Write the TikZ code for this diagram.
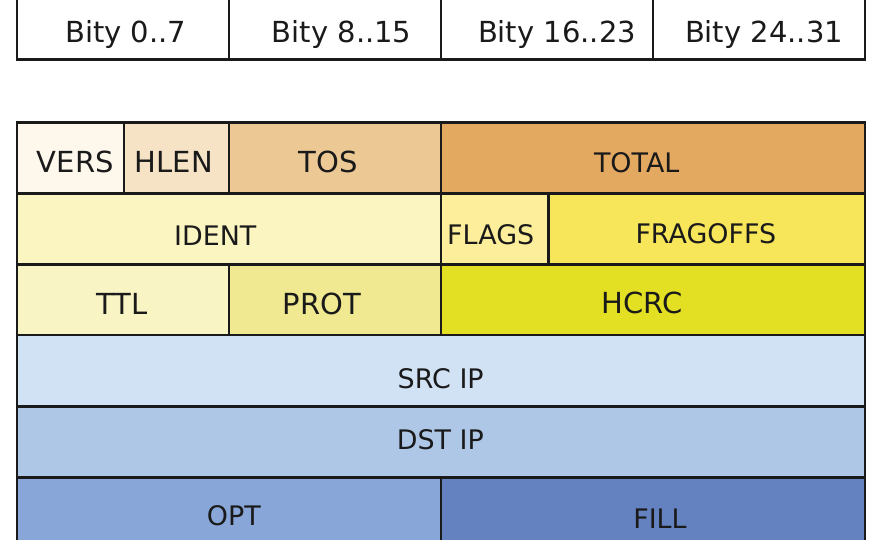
\documentclass[tikz,border=0pt]{standalone}
\usepackage{fontspec}
\setmainfont{DejaVu Sans}
\definecolor{cVers}{HTML}{FDF7EC}
\definecolor{cHlen}{HTML}{F6E3C6}
\definecolor{cTos}{HTML}{ECC894}
\definecolor{cTotal}{HTML}{E4A961}
\definecolor{cIdent}{HTML}{FBF5C2}
\definecolor{cFlags}{HTML}{FCEE9A}
\definecolor{cFrag}{HTML}{F7E55A}
\definecolor{cTtl}{HTML}{F8F4C4}
\definecolor{cProt}{HTML}{F0E992}
\definecolor{cHcrc}{HTML}{E3DF22}
\definecolor{cSrc}{HTML}{D1E2F5}
\definecolor{cDst}{HTML}{AEC7E7}
\definecolor{cOpt}{HTML}{88A6D7}
\definecolor{cFill}{HTML}{6482C0}
\definecolor{cLine}{HTML}{1A1A1A}
\tikzset{
  cellbox/.style={draw=cLine, line width=2.6pt, line join=miter},
  big/.style={anchor=base, inner sep=0pt, text=cLine, font=\fontsize{29}{34}\selectfont},
  small/.style={anchor=base, inner sep=0pt, text=cLine, font=\fontsize{26.9}{32}\selectfont}
}
\begin{document}
\begin{tikzpicture}[x=1pt,y=-1pt]
\useasboundingbox (0,0) rectangle (880,540);
% top row
\draw[cellbox, fill=white] (17,-20) rectangle (229,59.3);
\draw[cellbox, fill=white] (229,-20) rectangle (441,59.3);
\draw[cellbox, fill=white] (441,-20) rectangle (653,59.3);
\draw[cellbox, fill=white] (653,-20) rectangle (865,59.3);
\node[big] (b0) at (125.8,42.3) {Bity 0..7};
\node[big] (b1) at (341.7,42.3) {Bity 8..15};
\node[big] (b2) at (557,42.3) {Bity 16..23};
\node[big] (b3) at (764,42.3) {Bity 24..31};
% row 1
\draw[cellbox, fill=cVers] (17,122.7) rectangle (124,193.3);
\draw[cellbox, fill=cHlen] (124,122.7) rectangle (229,193.3);
\draw[cellbox, fill=cTos] (229,122.7) rectangle (441,193.3);
\draw[cellbox, fill=cTotal] (441,122.7) rectangle (865,193.3);
% row 2
\draw[cellbox, fill=cIdent] (17,193.3) rectangle (441,264.3);
\draw[cellbox, fill=cFlags] (441,193.3) rectangle (548.3,264.3);
\draw[cellbox, fill=cFrag] (548.3,193.3) rectangle (865,264.3);
% row 3
\draw[cellbox, fill=cTtl] (17,264.3) rectangle (229,335);
\draw[cellbox, fill=cProt] (229,264.3) rectangle (441,335);
\draw[cellbox, fill=cHcrc] (441,264.3) rectangle (865,335);
% row 4, 5
\draw[cellbox, fill=cSrc] (17,335) rectangle (865,406.7);
\draw[cellbox, fill=cDst] (17,406.7) rectangle (865,477.3);
% row 6
\draw[cellbox, fill=cOpt] (17,477.3) rectangle (441,560);
\draw[cellbox, fill=cFill] (441,477.3) rectangle (865,560);
% labels
\node[big] (vers) at (75.3,172.3) {VERS};
\node[big] (hlen) at (173.7,172.3) {HLEN};
\node[big] (tos) at (328.3,172.6) {TOS};
\node[small] (total) at (636.7,172.6) {TOTAL};
\node[small] (ident) at (215.3,245) {IDENT};
\node[small] (flags) at (490.7,244) {FLAGS};
\node[small] (frag) at (705.8,243.5) {FRAGOFFS};
\node[big] (ttl) at (122.2,314) {TTL};
\node[big] (prot) at (321.7,314) {PROT};
\node[big] (hcrc) at (642,313) {HCRC};
\node[small] (src) at (440.7,388.3) {SRC IP};
\node[small] (dst) at (440.3,449) {DST IP};
\node[small] (opt) at (233.9,525) {OPT};
\node[small] (fill) at (660,528.3) {FILL};
\end{tikzpicture}
\end{document}
